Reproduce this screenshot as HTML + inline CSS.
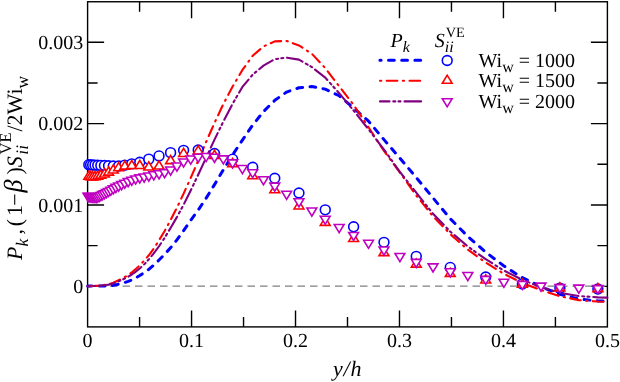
<!DOCTYPE html>
<html><head><meta charset="utf-8"><title>chart</title>
<style>html,body{margin:0;padding:0;background:#fff}body{width:620px;height:382px;overflow:hidden;font-family:"Liberation Serif",serif}</style></head>
<body>
<svg text-rendering="geometricPrecision" width="620" height="382" viewBox="0 0 620 382" style="display:block;will-change:transform">
<rect width="620" height="382" fill="#fff"/>
<rect x="87.6" y="1.75" width="519.8" height="325.15" fill="none" stroke="#000" stroke-width="1.4"/><path d="M139.58,326.9 v-10 M139.58,1.75 v10 M191.56,326.9 v-16.5 M191.56,1.75 v16.5 M243.54,326.9 v-10 M243.54,1.75 v10 M295.52,326.9 v-16.5 M295.52,1.75 v16.5 M347.50,326.9 v-10 M347.50,1.75 v10 M399.48,326.9 v-16.5 M399.48,1.75 v16.5 M451.46,326.9 v-10 M451.46,1.75 v10 M503.44,326.9 v-16.5 M503.44,1.75 v16.5 M555.42,326.9 v-10 M555.42,1.75 v10 M87.6,286.35 h16.5 M607.4,286.35 h-16.5 M87.6,245.67 h10 M607.4,245.67 h-10 M87.6,204.98 h16.5 M607.4,204.98 h-16.5 M87.6,164.30 h10 M607.4,164.30 h-10 M87.6,123.62 h16.5 M607.4,123.62 h-16.5 M87.6,82.93 h10 M607.4,82.93 h-10 M87.6,42.25 h16.5 M607.4,42.25 h-16.5" stroke="#000" stroke-width="1.4" fill="none"/>
<path d="M87.6,286.1 H607.4" stroke="#808080" stroke-width="1.2" stroke-dasharray="7.5,5" stroke-dashoffset="2.6" fill="none"/>
<path d="M87.60,286.10 L87.98,286.10 L88.79,286.09 L89.65,286.09 L90.58,286.08 L91.58,286.08 L92.64,286.07 L93.79,286.06 L95.01,286.05 L96.33,286.04 L97.74,286.03 L99.25,286.01 L100.86,285.99 L102.60,285.96 L104.45,285.93 L106.44,285.88 L108.56,285.81 L110.84,285.69 L113.27,285.36 L115.87,284.79 L118.65,284.09 L121.62,283.35 L124.79,282.47 L128.18,281.37 L131.79,279.94 L135.65,277.96 L139.76,275.55 L144.13,272.75 L148.80,269.35 L153.76,265.12 L159.03,259.97 L164.64,254.28 L170.59,247.72 L176.90,239.91 L183.60,230.69 L190.69,220.29 L198.19,210.09 L206.12,198.19 L214.49,184.59 L223.32,169.88 L232.62,154.89 L242.41,140.05 L252.69,125.09 L263.48,111.56 L274.78,100.35 L286.61,92.07 L298.96,87.78 L311.83,86.55 L325.24,89.14 L339.16,95.73 L353.60,107.96 L368.55,121.24 L383.98,139.65 L399.90,158.19 L416.26,177.55 L433.05,197.93 L450.25,218.72 L467.82,236.40 L485.72,252.16 L503.92,266.01 L522.37,277.71 L541.04,286.79 L559.88,294.27 L578.84,299.02 L597.87,300.93 L607.40,301.10" stroke="#0000ff" stroke-width="3.0" stroke-dasharray="5.8,7.4" stroke-dashoffset="1.5" stroke-linecap="round" fill="none" stroke-linejoin="round"/>
<path d="M87.60,286.10 L87.98,286.10 L88.79,286.09 L89.65,286.08 L90.58,286.06 L91.58,286.03 L92.64,285.99 L93.79,285.95 L95.01,285.90 L96.33,285.83 L97.74,285.72 L99.25,285.58 L100.86,285.40 L102.60,285.18 L104.45,284.90 L106.44,284.54 L108.56,284.09 L110.84,283.52 L113.27,282.67 L115.87,281.52 L118.65,280.17 L121.62,278.69 L124.79,277.00 L128.18,274.97 L131.79,272.43 L135.65,269.15 L139.76,265.24 L144.13,260.71 L148.80,255.27 L153.76,248.53 L159.03,240.31 L164.64,230.95 L170.59,220.15 L176.90,207.66 L183.60,193.61 L190.69,177.96 L198.19,160.72 L206.12,141.94 L214.49,122.98 L223.32,104.15 L232.62,86.58 L242.41,69.95 L252.69,55.80 L263.48,46.36 L274.78,41.40 L286.61,40.97 L298.96,45.40 L311.83,53.73 L325.24,68.08 L339.16,86.28 L353.60,104.88 L368.55,127.26 L383.98,150.91 L399.90,172.58 L416.26,195.46 L433.05,216.34 L450.25,234.10 L467.82,249.62 L485.72,262.61 L503.92,273.81 L522.37,282.97 L541.04,290.05 L559.88,296.29 L578.84,300.14 L597.87,301.55 L607.40,301.80" stroke="#ff0000" stroke-width="2.1" stroke-dasharray="10.7,5.4,1.3,5.4" stroke-linecap="round" fill="none" stroke-linejoin="round"/>
<path d="M87.60,286.10 L87.98,286.10 L88.79,286.09 L89.65,286.08 L90.58,286.07 L91.58,286.04 L92.64,286.02 L93.79,285.99 L95.01,285.95 L96.33,285.90 L97.74,285.84 L99.25,285.75 L100.86,285.63 L102.60,285.47 L104.45,285.26 L106.44,284.98 L108.56,284.62 L110.84,284.17 L113.27,283.46 L115.87,282.49 L118.65,281.31 L121.62,280.01 L124.79,278.49 L128.18,276.68 L131.79,274.50 L135.65,271.78 L139.76,268.44 L144.13,264.41 L148.80,259.41 L153.76,253.45 L159.03,246.25 L164.64,237.82 L170.59,227.96 L176.90,217.12 L183.60,204.74 L190.69,190.53 L198.19,174.72 L206.12,157.69 L214.49,139.59 L223.32,121.59 L232.62,103.77 L242.41,86.93 L252.69,74.61 L263.48,65.63 L274.78,59.15 L286.61,57.59 L298.96,59.65 L311.83,67.06 L325.24,77.59 L339.16,93.20 L353.60,110.58 L368.55,129.40 L383.98,149.52 L399.90,171.94 L416.26,192.70 L433.05,213.84 L450.25,231.60 L467.82,246.47 L485.72,259.22 L503.92,270.51 L522.37,279.80 L541.04,287.27 L559.88,292.81 L578.84,296.06 L597.87,297.34 L607.40,297.60" stroke="#800080" stroke-width="2.1" stroke-dasharray="16.1,3.9,2.0,3.2,2.0,3.8" stroke-dashoffset="19.5" stroke-linecap="round" fill="none" stroke-linejoin="round"/>
<circle cx="88.79" cy="164.71" r="4.90" fill="#fff" stroke="#0000ff" stroke-width="1.6"/>
<circle cx="90.58" cy="164.85" r="4.90" fill="#fff" stroke="#0000ff" stroke-width="1.6"/>
<circle cx="92.64" cy="164.99" r="4.90" fill="#fff" stroke="#0000ff" stroke-width="1.6"/>
<circle cx="95.01" cy="165.14" r="4.90" fill="#fff" stroke="#0000ff" stroke-width="1.6"/>
<circle cx="97.74" cy="165.26" r="4.90" fill="#fff" stroke="#0000ff" stroke-width="1.6"/>
<circle cx="100.86" cy="165.40" r="4.90" fill="#fff" stroke="#0000ff" stroke-width="1.6"/>
<circle cx="104.45" cy="165.57" r="4.90" fill="#fff" stroke="#0000ff" stroke-width="1.6"/>
<circle cx="108.56" cy="165.77" r="4.90" fill="#fff" stroke="#0000ff" stroke-width="1.6"/>
<circle cx="113.27" cy="165.98" r="4.90" fill="#fff" stroke="#0000ff" stroke-width="1.6"/>
<circle cx="118.65" cy="165.99" r="4.90" fill="#fff" stroke="#0000ff" stroke-width="1.6"/>
<circle cx="124.79" cy="165.14" r="4.90" fill="#fff" stroke="#0000ff" stroke-width="1.6"/>
<circle cx="131.79" cy="163.85" r="4.90" fill="#fff" stroke="#0000ff" stroke-width="1.6"/>
<circle cx="139.76" cy="162.23" r="4.90" fill="#fff" stroke="#0000ff" stroke-width="1.6"/>
<circle cx="148.80" cy="159.15" r="4.90" fill="#fff" stroke="#0000ff" stroke-width="1.6"/>
<circle cx="159.03" cy="155.91" r="4.90" fill="#fff" stroke="#0000ff" stroke-width="1.6"/>
<circle cx="170.59" cy="152.63" r="4.90" fill="#fff" stroke="#0000ff" stroke-width="1.6"/>
<circle cx="183.60" cy="150.37" r="4.90" fill="#fff" stroke="#0000ff" stroke-width="1.6"/>
<circle cx="198.19" cy="150.06" r="4.90" fill="#fff" stroke="#0000ff" stroke-width="1.6"/>
<circle cx="214.49" cy="153.51" r="4.90" fill="#fff" stroke="#0000ff" stroke-width="1.6"/>
<circle cx="232.62" cy="159.20" r="4.90" fill="#fff" stroke="#0000ff" stroke-width="1.6"/>
<circle cx="252.69" cy="167.31" r="4.90" fill="#fff" stroke="#0000ff" stroke-width="1.6"/>
<circle cx="274.78" cy="178.32" r="4.90" fill="#fff" stroke="#0000ff" stroke-width="1.6"/>
<circle cx="298.96" cy="193.00" r="4.90" fill="#fff" stroke="#0000ff" stroke-width="1.6"/>
<circle cx="325.24" cy="209.83" r="4.90" fill="#fff" stroke="#0000ff" stroke-width="1.6"/>
<circle cx="353.60" cy="226.82" r="4.90" fill="#fff" stroke="#0000ff" stroke-width="1.6"/>
<circle cx="383.98" cy="242.37" r="4.90" fill="#fff" stroke="#0000ff" stroke-width="1.6"/>
<circle cx="416.26" cy="256.37" r="4.90" fill="#fff" stroke="#0000ff" stroke-width="1.6"/>
<circle cx="450.25" cy="267.44" r="4.90" fill="#fff" stroke="#0000ff" stroke-width="1.6"/>
<circle cx="485.72" cy="277.07" r="4.90" fill="#fff" stroke="#0000ff" stroke-width="1.6"/>
<circle cx="522.37" cy="283.90" r="4.90" fill="#fff" stroke="#0000ff" stroke-width="1.6"/>
<circle cx="559.88" cy="288.13" r="4.90" fill="#fff" stroke="#0000ff" stroke-width="1.6"/>
<circle cx="597.87" cy="289.03" r="4.90" fill="#fff" stroke="#0000ff" stroke-width="1.6"/>
<path d="M88.79,171.21 l-4.90,8.10 h9.80 z" fill="#fff" stroke="#ff0000" stroke-width="1.6" stroke-linejoin="miter"/>
<path d="M90.58,171.55 l-4.90,8.10 h9.80 z" fill="#fff" stroke="#ff0000" stroke-width="1.6" stroke-linejoin="miter"/>
<path d="M92.64,171.75 l-4.90,8.10 h9.80 z" fill="#fff" stroke="#ff0000" stroke-width="1.6" stroke-linejoin="miter"/>
<path d="M95.01,171.60 l-4.90,8.10 h9.80 z" fill="#fff" stroke="#ff0000" stroke-width="1.6" stroke-linejoin="miter"/>
<path d="M97.74,171.01 l-4.90,8.10 h9.80 z" fill="#fff" stroke="#ff0000" stroke-width="1.6" stroke-linejoin="miter"/>
<path d="M100.86,170.18 l-4.90,8.10 h9.80 z" fill="#fff" stroke="#ff0000" stroke-width="1.6" stroke-linejoin="miter"/>
<path d="M104.45,168.87 l-4.90,8.10 h9.80 z" fill="#fff" stroke="#ff0000" stroke-width="1.6" stroke-linejoin="miter"/>
<path d="M108.56,167.06 l-4.90,8.10 h9.80 z" fill="#fff" stroke="#ff0000" stroke-width="1.6" stroke-linejoin="miter"/>
<path d="M113.27,164.85 l-4.90,8.10 h9.80 z" fill="#fff" stroke="#ff0000" stroke-width="1.6" stroke-linejoin="miter"/>
<path d="M118.65,162.61 l-4.90,8.10 h9.80 z" fill="#fff" stroke="#ff0000" stroke-width="1.6" stroke-linejoin="miter"/>
<path d="M124.79,161.05 l-4.90,8.10 h9.80 z" fill="#fff" stroke="#ff0000" stroke-width="1.6" stroke-linejoin="miter"/>
<path d="M131.79,160.40 l-4.90,8.10 h9.80 z" fill="#fff" stroke="#ff0000" stroke-width="1.6" stroke-linejoin="miter"/>
<path d="M139.76,160.41 l-4.90,8.10 h9.80 z" fill="#fff" stroke="#ff0000" stroke-width="1.6" stroke-linejoin="miter"/>
<path d="M148.80,161.87 l-4.90,8.10 h9.80 z" fill="#fff" stroke="#ff0000" stroke-width="1.6" stroke-linejoin="miter"/>
<path d="M159.03,160.87 l-4.90,8.10 h9.80 z" fill="#fff" stroke="#ff0000" stroke-width="1.6" stroke-linejoin="miter"/>
<path d="M170.59,155.51 l-4.90,8.10 h9.80 z" fill="#fff" stroke="#ff0000" stroke-width="1.6" stroke-linejoin="miter"/>
<path d="M183.60,148.35 l-4.90,8.10 h9.80 z" fill="#fff" stroke="#ff0000" stroke-width="1.6" stroke-linejoin="miter"/>
<path d="M198.19,145.85 l-4.90,8.10 h9.80 z" fill="#fff" stroke="#ff0000" stroke-width="1.6" stroke-linejoin="miter"/>
<path d="M214.49,150.37 l-4.90,8.10 h9.80 z" fill="#fff" stroke="#ff0000" stroke-width="1.6" stroke-linejoin="miter"/>
<path d="M232.62,158.50 l-4.90,8.10 h9.80 z" fill="#fff" stroke="#ff0000" stroke-width="1.6" stroke-linejoin="miter"/>
<path d="M252.69,170.66 l-4.90,8.10 h9.80 z" fill="#fff" stroke="#ff0000" stroke-width="1.6" stroke-linejoin="miter"/>
<path d="M274.78,184.69 l-4.90,8.10 h9.80 z" fill="#fff" stroke="#ff0000" stroke-width="1.6" stroke-linejoin="miter"/>
<path d="M298.96,200.83 l-4.90,8.10 h9.80 z" fill="#fff" stroke="#ff0000" stroke-width="1.6" stroke-linejoin="miter"/>
<path d="M325.24,217.25 l-4.90,8.10 h9.80 z" fill="#fff" stroke="#ff0000" stroke-width="1.6" stroke-linejoin="miter"/>
<path d="M353.60,233.34 l-4.90,8.10 h9.80 z" fill="#fff" stroke="#ff0000" stroke-width="1.6" stroke-linejoin="miter"/>
<path d="M383.98,247.50 l-4.90,8.10 h9.80 z" fill="#fff" stroke="#ff0000" stroke-width="1.6" stroke-linejoin="miter"/>
<path d="M416.26,258.98 l-4.90,8.10 h9.80 z" fill="#fff" stroke="#ff0000" stroke-width="1.6" stroke-linejoin="miter"/>
<path d="M450.25,268.31 l-4.90,8.10 h9.80 z" fill="#fff" stroke="#ff0000" stroke-width="1.6" stroke-linejoin="miter"/>
<path d="M485.72,274.86 l-4.90,8.10 h9.80 z" fill="#fff" stroke="#ff0000" stroke-width="1.6" stroke-linejoin="miter"/>
<path d="M522.37,279.05 l-4.90,8.10 h9.80 z" fill="#fff" stroke="#ff0000" stroke-width="1.6" stroke-linejoin="miter"/>
<path d="M559.88,282.75 l-4.90,8.10 h9.80 z" fill="#fff" stroke="#ff0000" stroke-width="1.6" stroke-linejoin="miter"/>
<path d="M597.87,283.51 l-4.90,8.10 h9.80 z" fill="#fff" stroke="#ff0000" stroke-width="1.6" stroke-linejoin="miter"/>
<path d="M87.98,201.43 l-4.90,-8.10 h9.80 z" fill="#fff" stroke="#c000c0" stroke-width="1.6" stroke-linejoin="miter"/>
<path d="M88.79,201.55 l-4.90,-8.10 h9.80 z" fill="#fff" stroke="#c000c0" stroke-width="1.6" stroke-linejoin="miter"/>
<path d="M89.65,201.71 l-4.90,-8.10 h9.80 z" fill="#fff" stroke="#c000c0" stroke-width="1.6" stroke-linejoin="miter"/>
<path d="M90.58,201.91 l-4.90,-8.10 h9.80 z" fill="#fff" stroke="#c000c0" stroke-width="1.6" stroke-linejoin="miter"/>
<path d="M91.58,202.07 l-4.90,-8.10 h9.80 z" fill="#fff" stroke="#c000c0" stroke-width="1.6" stroke-linejoin="miter"/>
<path d="M92.64,202.17 l-4.90,-8.10 h9.80 z" fill="#fff" stroke="#c000c0" stroke-width="1.6" stroke-linejoin="miter"/>
<path d="M93.79,202.32 l-4.90,-8.10 h9.80 z" fill="#fff" stroke="#c000c0" stroke-width="1.6" stroke-linejoin="miter"/>
<path d="M95.01,202.48 l-4.90,-8.10 h9.80 z" fill="#fff" stroke="#c000c0" stroke-width="1.6" stroke-linejoin="miter"/>
<path d="M96.33,202.55 l-4.90,-8.10 h9.80 z" fill="#fff" stroke="#c000c0" stroke-width="1.6" stroke-linejoin="miter"/>
<path d="M97.74,202.20 l-4.90,-8.10 h9.80 z" fill="#fff" stroke="#c000c0" stroke-width="1.6" stroke-linejoin="miter"/>
<path d="M99.25,201.49 l-4.90,-8.10 h9.80 z" fill="#fff" stroke="#c000c0" stroke-width="1.6" stroke-linejoin="miter"/>
<path d="M100.86,200.66 l-4.90,-8.10 h9.80 z" fill="#fff" stroke="#c000c0" stroke-width="1.6" stroke-linejoin="miter"/>
<path d="M102.60,199.75 l-4.90,-8.10 h9.80 z" fill="#fff" stroke="#c000c0" stroke-width="1.6" stroke-linejoin="miter"/>
<path d="M104.45,198.80 l-4.90,-8.10 h9.80 z" fill="#fff" stroke="#c000c0" stroke-width="1.6" stroke-linejoin="miter"/>
<path d="M106.44,197.74 l-4.90,-8.10 h9.80 z" fill="#fff" stroke="#c000c0" stroke-width="1.6" stroke-linejoin="miter"/>
<path d="M108.56,196.56 l-4.90,-8.10 h9.80 z" fill="#fff" stroke="#c000c0" stroke-width="1.6" stroke-linejoin="miter"/>
<path d="M110.84,195.32 l-4.90,-8.10 h9.80 z" fill="#fff" stroke="#c000c0" stroke-width="1.6" stroke-linejoin="miter"/>
<path d="M113.27,193.95 l-4.90,-8.10 h9.80 z" fill="#fff" stroke="#c000c0" stroke-width="1.6" stroke-linejoin="miter"/>
<path d="M115.87,192.51 l-4.90,-8.10 h9.80 z" fill="#fff" stroke="#c000c0" stroke-width="1.6" stroke-linejoin="miter"/>
<path d="M118.65,191.16 l-4.90,-8.10 h9.80 z" fill="#fff" stroke="#c000c0" stroke-width="1.6" stroke-linejoin="miter"/>
<path d="M121.62,189.77 l-4.90,-8.10 h9.80 z" fill="#fff" stroke="#c000c0" stroke-width="1.6" stroke-linejoin="miter"/>
<path d="M124.79,188.28 l-4.90,-8.10 h9.80 z" fill="#fff" stroke="#c000c0" stroke-width="1.6" stroke-linejoin="miter"/>
<path d="M128.18,186.75 l-4.90,-8.10 h9.80 z" fill="#fff" stroke="#c000c0" stroke-width="1.6" stroke-linejoin="miter"/>
<path d="M131.79,185.29 l-4.90,-8.10 h9.80 z" fill="#fff" stroke="#c000c0" stroke-width="1.6" stroke-linejoin="miter"/>
<path d="M135.65,184.06 l-4.90,-8.10 h9.80 z" fill="#fff" stroke="#c000c0" stroke-width="1.6" stroke-linejoin="miter"/>
<path d="M139.76,183.01 l-4.90,-8.10 h9.80 z" fill="#fff" stroke="#c000c0" stroke-width="1.6" stroke-linejoin="miter"/>
<path d="M144.13,182.10 l-4.90,-8.10 h9.80 z" fill="#fff" stroke="#c000c0" stroke-width="1.6" stroke-linejoin="miter"/>
<path d="M148.80,181.10 l-4.90,-8.10 h9.80 z" fill="#fff" stroke="#c000c0" stroke-width="1.6" stroke-linejoin="miter"/>
<path d="M153.76,179.89 l-4.90,-8.10 h9.80 z" fill="#fff" stroke="#c000c0" stroke-width="1.6" stroke-linejoin="miter"/>
<path d="M159.03,178.87 l-4.90,-8.10 h9.80 z" fill="#fff" stroke="#c000c0" stroke-width="1.6" stroke-linejoin="miter"/>
<path d="M164.64,177.74 l-4.90,-8.10 h9.80 z" fill="#fff" stroke="#c000c0" stroke-width="1.6" stroke-linejoin="miter"/>
<path d="M170.59,175.11 l-4.90,-8.10 h9.80 z" fill="#fff" stroke="#c000c0" stroke-width="1.6" stroke-linejoin="miter"/>
<path d="M176.90,171.13 l-4.90,-8.10 h9.80 z" fill="#fff" stroke="#c000c0" stroke-width="1.6" stroke-linejoin="miter"/>
<path d="M183.60,167.07 l-4.90,-8.10 h9.80 z" fill="#fff" stroke="#c000c0" stroke-width="1.6" stroke-linejoin="miter"/>
<path d="M190.69,164.17 l-4.90,-8.10 h9.80 z" fill="#fff" stroke="#c000c0" stroke-width="1.6" stroke-linejoin="miter"/>
<path d="M198.19,162.33 l-4.90,-8.10 h9.80 z" fill="#fff" stroke="#c000c0" stroke-width="1.6" stroke-linejoin="miter"/>
<path d="M206.12,161.56 l-4.90,-8.10 h9.80 z" fill="#fff" stroke="#c000c0" stroke-width="1.6" stroke-linejoin="miter"/>
<path d="M214.49,162.33 l-4.90,-8.10 h9.80 z" fill="#fff" stroke="#c000c0" stroke-width="1.6" stroke-linejoin="miter"/>
<path d="M223.32,163.94 l-4.90,-8.10 h9.80 z" fill="#fff" stroke="#c000c0" stroke-width="1.6" stroke-linejoin="miter"/>
<path d="M232.62,168.02 l-4.90,-8.10 h9.80 z" fill="#fff" stroke="#c000c0" stroke-width="1.6" stroke-linejoin="miter"/>
<path d="M242.41,173.67 l-4.90,-8.10 h9.80 z" fill="#fff" stroke="#c000c0" stroke-width="1.6" stroke-linejoin="miter"/>
<path d="M252.69,177.79 l-4.90,-8.10 h9.80 z" fill="#fff" stroke="#c000c0" stroke-width="1.6" stroke-linejoin="miter"/>
<path d="M263.48,184.82 l-4.90,-8.10 h9.80 z" fill="#fff" stroke="#c000c0" stroke-width="1.6" stroke-linejoin="miter"/>
<path d="M274.78,191.25 l-4.90,-8.10 h9.80 z" fill="#fff" stroke="#c000c0" stroke-width="1.6" stroke-linejoin="miter"/>
<path d="M286.61,199.37 l-4.90,-8.10 h9.80 z" fill="#fff" stroke="#c000c0" stroke-width="1.6" stroke-linejoin="miter"/>
<path d="M298.96,206.84 l-4.90,-8.10 h9.80 z" fill="#fff" stroke="#c000c0" stroke-width="1.6" stroke-linejoin="miter"/>
<path d="M311.83,216.10 l-4.90,-8.10 h9.80 z" fill="#fff" stroke="#c000c0" stroke-width="1.6" stroke-linejoin="miter"/>
<path d="M325.24,224.32 l-4.90,-8.10 h9.80 z" fill="#fff" stroke="#c000c0" stroke-width="1.6" stroke-linejoin="miter"/>
<path d="M339.16,232.62 l-4.90,-8.10 h9.80 z" fill="#fff" stroke="#c000c0" stroke-width="1.6" stroke-linejoin="miter"/>
<path d="M353.60,240.53 l-4.90,-8.10 h9.80 z" fill="#fff" stroke="#c000c0" stroke-width="1.6" stroke-linejoin="miter"/>
<path d="M368.55,248.29 l-4.90,-8.10 h9.80 z" fill="#fff" stroke="#c000c0" stroke-width="1.6" stroke-linejoin="miter"/>
<path d="M383.98,255.13 l-4.90,-8.10 h9.80 z" fill="#fff" stroke="#c000c0" stroke-width="1.6" stroke-linejoin="miter"/>
<path d="M399.90,261.59 l-4.90,-8.10 h9.80 z" fill="#fff" stroke="#c000c0" stroke-width="1.6" stroke-linejoin="miter"/>
<path d="M416.26,267.50 l-4.90,-8.10 h9.80 z" fill="#fff" stroke="#c000c0" stroke-width="1.6" stroke-linejoin="miter"/>
<path d="M433.05,272.01 l-4.90,-8.10 h9.80 z" fill="#fff" stroke="#c000c0" stroke-width="1.6" stroke-linejoin="miter"/>
<path d="M450.25,276.85 l-4.90,-8.10 h9.80 z" fill="#fff" stroke="#c000c0" stroke-width="1.6" stroke-linejoin="miter"/>
<path d="M467.82,280.66 l-4.90,-8.10 h9.80 z" fill="#fff" stroke="#c000c0" stroke-width="1.6" stroke-linejoin="miter"/>
<path d="M485.72,284.45 l-4.90,-8.10 h9.80 z" fill="#fff" stroke="#c000c0" stroke-width="1.6" stroke-linejoin="miter"/>
<path d="M503.92,287.29 l-4.90,-8.10 h9.80 z" fill="#fff" stroke="#c000c0" stroke-width="1.6" stroke-linejoin="miter"/>
<path d="M522.37,289.44 l-4.90,-8.10 h9.80 z" fill="#fff" stroke="#c000c0" stroke-width="1.6" stroke-linejoin="miter"/>
<path d="M541.04,291.23 l-4.90,-8.10 h9.80 z" fill="#fff" stroke="#c000c0" stroke-width="1.6" stroke-linejoin="miter"/>
<path d="M559.88,292.69 l-4.90,-8.10 h9.80 z" fill="#fff" stroke="#c000c0" stroke-width="1.6" stroke-linejoin="miter"/>
<path d="M578.84,293.22 l-4.90,-8.10 h9.80 z" fill="#fff" stroke="#c000c0" stroke-width="1.6" stroke-linejoin="miter"/>
<path d="M597.87,293.73 l-4.90,-8.10 h9.80 z" fill="#fff" stroke="#c000c0" stroke-width="1.6" stroke-linejoin="miter"/>
<g font-family="Liberation Serif" font-size="20" fill="#000">
<text x="87.60" y="346.8" text-anchor="middle">0</text>
<text x="191.56" y="346.8" text-anchor="middle">0.1</text>
<text x="295.52" y="346.8" text-anchor="middle">0.2</text>
<text x="399.48" y="346.8" text-anchor="middle">0.3</text>
<text x="503.44" y="346.8" text-anchor="middle">0.4</text>
<text x="607.40" y="346.8" text-anchor="middle">0.5</text>
<text x="83.3" y="292.95" text-anchor="end">0</text>
<text x="83.3" y="211.58" text-anchor="end">0.001</text>
<text x="83.3" y="130.22" text-anchor="end">0.002</text>
<text x="83.3" y="48.85" text-anchor="end">0.003</text>
</g>
<text x="333" y="375.7" font-family="Liberation Serif" font-size="22" font-style="italic" letter-spacing="0.8">y/h</text>
<g transform="translate(21.5,260) rotate(-90)" font-family="Liberation Serif" font-size="22" fill="#000"><text x="0" y="0"><tspan font-style="italic">P</tspan><tspan font-style="italic" font-size="17.6" dy="6">k</tspan></text><text x="25.5" y="0">,</text><text x="33.8" y="0">(</text><text x="43.9" y="0">1</text><text x="54.3" y="0">−</text><text x="67.4" y="0" font-style="italic" font-size="26">β</text><text x="85.5" y="0">)</text><text x="92.8" y="0" font-style="italic">S</text><text x="105.3" y="6" font-style="italic" font-size="17.6">ii</text><text x="105.6" y="-10.5" font-size="16.5">VE</text><text x="128.5" y="0">/2Wi<tspan font-size="17.6" dy="6">w</tspan></text></g>
<g font-family="Liberation Serif" font-size="20" fill="#000">
<text x="390.5" y="47.3"><tspan font-style="italic">P</tspan><tspan font-style="italic" font-size="16" dy="5">k</tspan></text>
<text x="434.8" y="47.3"><tspan font-style="italic">S</tspan><tspan font-style="italic" font-size="16" dy="5">ii</tspan><tspan font-size="14.3" dy="-15" dx="-8">VE</tspan></text>
<text x="478.5" y="67.10">Wi<tspan font-size="16" dy="5">w</tspan><tspan dy="-5"> = 1000</tspan></text>
<text x="478.5" y="87.40">Wi<tspan font-size="16" dy="5">w</tspan><tspan dy="-5"> = 1500</tspan></text>
<text x="478.5" y="107.80">Wi<tspan font-size="16" dy="5">w</tspan><tspan dy="-5"> = 2000</tspan></text>
</g>
<path d="M379.9,60.3 H421.3" stroke="#0000ff" stroke-width="3.0" stroke-dasharray="5.8,7.4" stroke-dashoffset="4.6" stroke-linecap="round" fill="none"/>
<path d="M380,80.7 H422" stroke="#ff0000" stroke-width="2.1" stroke-dasharray="1.3,5.4,10.7,5.4" stroke-linecap="round" fill="none"/>
<path d="M380,101.4 H422.1" stroke="#800080" stroke-width="2.1" stroke-dasharray="9.5,3.8,2.0,3.2,2.0,4.0,16.6,4.4" stroke-linecap="round" fill="none"/>
<circle cx="447.20" cy="60.50" r="4.90" fill="#fff" stroke="#0000ff" stroke-width="1.6"/>
<path d="M447.20,75.20 l-4.90,8.10 h9.80 z" fill="#fff" stroke="#ff0000" stroke-width="1.6" stroke-linejoin="miter"/>
<path d="M447.20,106.80 l-4.90,-8.10 h9.80 z" fill="#fff" stroke="#c000c0" stroke-width="1.6" stroke-linejoin="miter"/>
</svg>
</body></html>
